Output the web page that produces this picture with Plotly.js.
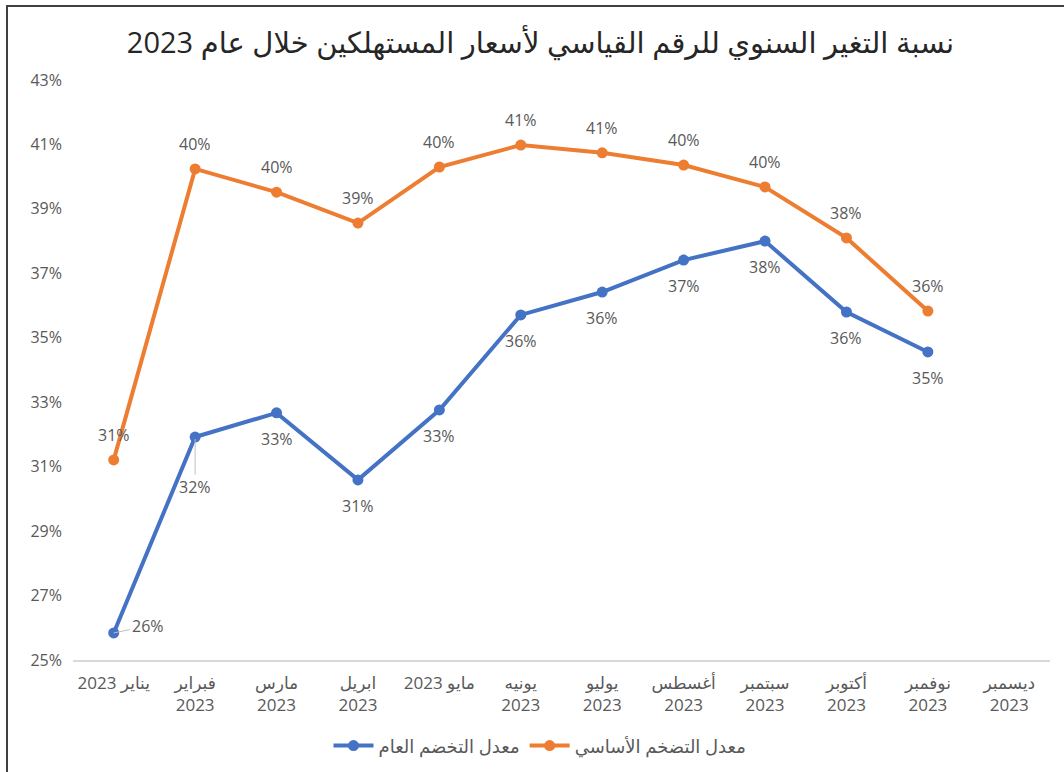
<!DOCTYPE html>
<html>
<head>
<meta charset="utf-8">
<script src="https://cdn.plot.ly/plotly-3.0.1.min.js"></script>
<style>
  html, body { margin: 0; padding: 0; background: #fff; }
  #wrap { position: relative; width: 1064px; height: 772px; overflow: hidden; }
  #chart { position: absolute; left: 0; top: 0; width: 1064px; height: 772px; }
  #frame { position: absolute; left: 6px; top: 5px; width: 1100px; height: 800px;
           border-left: 2px solid #404040; border-top: 2px solid #404040; pointer-events: none; }
</style>
</head>
<body>
<div id="wrap">
  <div id="chart"></div>
  <div id="frame"></div>
</div>
<script>
const months = [
  "يناير 2023", "فبراير<br>2023", "مارس<br>2023", "ابريل<br>2023", "مايو 2023", "يونيه<br>2023",
  "يوليو<br>2023", "أغسطس<br>2023", "سبتمبر<br>2023", "أكتوبر<br>2023", "نوفمبر<br>2023", "ديسمبر<br>2023"
];
const seriesNames = ["معدل التخضم العام", "معدل التضخم الأساسي"];
const headline = [25.84, 31.92, 32.67, 30.59, 32.76, 35.71, 36.42, 37.41, 38.00, 35.80, 34.56];
const core     = [31.21, 40.24, 39.52, 38.56, 40.30, 40.98, 40.74, 40.36, 39.68, 38.10, 35.83];
const yTicks = [25, 27, 29, 31, 33, 35, 37, 39, 41, 43];
const titleText = "نسبة التغير السنوي للرقم القياسي لأسعار المستهلكين خلال عام 2023";

const FONT = "Open Sans, DejaVu Sans, sans-serif";
const GRAY = "#595959";
const BLUE = "#4472C4";
const ORANGE = "#ED7D31";

const traces = [
  { x: months.slice(0, headline.length), y: headline, name: seriesNames[0], type: "scatter",
    mode: "lines+markers", line: { color: BLUE, width: 4 }, marker: { color: BLUE, size: 11 },
    hoverinfo: "skip" },
  { x: months.slice(0, core.length), y: core, name: seriesNames[1], type: "scatter",
    mode: "lines+markers", line: { color: ORANGE, width: 4 }, marker: { color: ORANGE, size: 11 },
    hoverinfo: "skip" }
];

const annotations = [];
core.forEach((v, i) => {
  annotations.push({ x: months[i], y: v, text: Math.round(v) + "%", showarrow: false,
    yshift: 25, font: { family: FONT, size: 16, color: GRAY } });
});
headline.forEach((v, i) => {
  const a = { x: months[i], y: v, text: Math.round(v) + "%",
    font: { family: FONT, size: 16, color: GRAY } };
  if (i === 0) {
    Object.assign(a, { showarrow: true, ax: 34, ay: -7, arrowhead: 0, arrowwidth: 1, arrowcolor: "#bfbfbf", standoff: 0 });
  } else if (i === 1) {
    Object.assign(a, { showarrow: true, ax: 0, ay: 50, arrowhead: 0, arrowwidth: 1, arrowcolor: "#bfbfbf", standoff: 2 });
  } else {
    Object.assign(a, { showarrow: false, yshift: -26 });
  }
  annotations.push(a);
});

const layout = {
  width: 1064, height: 772,
  margin: { l: 73, r: 14, t: 80, b: 112, autoexpand: false },
  paper_bgcolor: "rgba(0,0,0,0)", plot_bgcolor: "rgba(0,0,0,0)",
  font: { family: FONT, color: GRAY, size: 16 },
  title: { text: titleText, x: 0.508, xanchor: "center", y: 0.945, yanchor: "middle",
           font: { family: FONT, size: 29, color: "#262626" } },
  showlegend: true,
  legend: { orientation: "h", x: 0.478, xanchor: "center",
            y: -0.148, yanchor: "middle", font: { family: FONT, size: 18, color: GRAY },
            itemwidth: 40 },
  xaxis: { type: "category", categoryorder: "array", categoryarray: months,
           range: [-0.5, months.length - 0.5], showgrid: false, zeroline: false,
           showline: true, linecolor: "#d9d9d9", linewidth: 1.5, ticks: "",
           tickangle: 0, automargin: false,
           tickfont: { family: FONT, size: 17, color: GRAY }, ticklabelstandoff: 7,
           fixedrange: true },
  yaxis: { range: [25, 43], tickvals: yTicks, ticktext: yTicks.map(t => t + "%"),
           showgrid: false, zeroline: false, showline: false, ticks: "", automargin: false,
           tickfont: { family: FONT, size: 16, color: GRAY }, ticklabelstandoff: 10,
           fixedrange: true },
  annotations: annotations
};

Plotly.newPlot("chart", traces, layout, { displayModeBar: false, staticPlot: true });
</script>
</body>
</html>
